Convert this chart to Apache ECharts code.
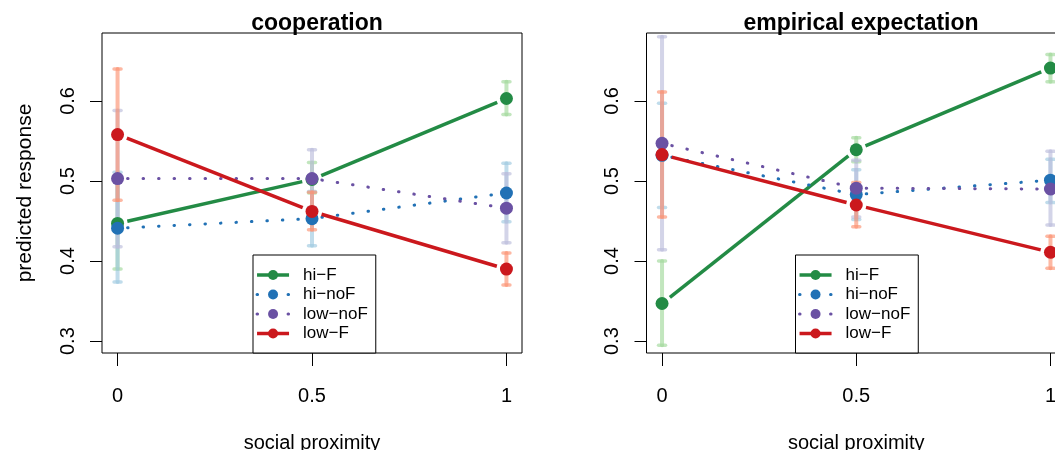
<!DOCTYPE html>
<html><head><meta charset="utf-8">
<script src="https://cdn.jsdelivr.net/npm/echarts@6/dist/echarts.min.js"></script>
<style>html,body{margin:0;padding:0;background:#fff}#c{width:1055px;height:450px}</style>
</head><body><div id="c"></div>
<script>
// ---------- data ----------
const groups = ['hi\u2212F', 'hi\u2212noF', 'low\u2212noF', 'low\u2212F'];
const proximity = [0, 0.5, 1];
const xTicks = [0, 0.5, 1];
const yTicks = [0.3, 0.4, 0.5, 0.6];
const panelTitles = ['cooperation', 'empirical expectation'];
const xAxisTitle = 'social proximity';
const yAxisTitle = 'predicted response';

// cooperation panel: mean, lower, upper per group
const coopHiF      = [0.447, 0.502, 0.603];
const coopHiFLo    = [0.390, 0.485, 0.583];
const coopHiFHi    = [0.502, 0.523, 0.624];
const coopHiNoF    = [0.441, 0.453, 0.485];
const coopHiNoFLo  = [0.374, 0.419, 0.449];
const coopHiNoFHi  = [0.511, 0.487, 0.522];
const coopLowNoF   = [0.503, 0.503, 0.466];
const coopLowNoFLo = [0.418, 0.467, 0.423];
const coopLowNoFHi = [0.588, 0.539, 0.509];
const coopLowF     = [0.558, 0.462, 0.390];
const coopLowFLo   = [0.476, 0.439, 0.370];
const coopLowFHi   = [0.640, 0.486, 0.410];

// empirical expectation panel
const empHiF      = [0.347, 0.539, 0.641];
const empHiFLo    = [0.295, 0.524, 0.624];
const empHiFHi    = [0.400, 0.554, 0.658];
const empHiNoF    = [0.532, 0.483, 0.501];
const empHiNoFLo  = [0.467, 0.452, 0.473];
const empHiNoFHi  = [0.597, 0.514, 0.527];
const empLowNoF   = [0.547, 0.491, 0.490];
const empLowNoFLo = [0.414, 0.455, 0.445];
const empLowNoFHi = [0.680, 0.526, 0.537];
const empLowF     = [0.533, 0.470, 0.411];
const empLowFLo   = [0.455, 0.443, 0.391];
const empLowFHi   = [0.611, 0.498, 0.431];

// ---------- styling ----------
const lineColors = ['#238b45', '#2171b5', '#6a51a3', '#cb181d'];
const barColors  = ['#a1d99b', '#9ecae1', '#bcbddc', '#fc9272'];
const dotted     = [false, true, true, false];
const FONT = '"Liberation Sans", Arial, Helvetica, sans-serif';

const panels = [
  { mean: [coopHiF, coopHiNoF, coopLowNoF, coopLowF],
    lo:   [coopHiFLo, coopHiNoFLo, coopLowNoFLo, coopLowFLo],
    hi:   [coopHiFHi, coopHiNoFHi, coopLowNoFHi, coopLowFHi] },
  { mean: [empHiF, empHiNoF, empLowNoF, empLowF],
    lo:   [empHiFLo, empHiNoFLo, empLowNoFLo, empLowFLo],
    hi:   [empHiFHi, empHiNoFHi, empLowNoFHi, empLowFHi] }
];

const gridLayout = [
  { left: 102, width: 420 },
  { left: 646.5, width: 419.5 }
];
const centers = [312, 856];
const legendLeft = [253, 795.5];

function errRender(params, api) {
  const x = api.value(0), lo = api.value(1), hi = api.value(2), g = api.value(3);
  const a = api.coord([x, lo]), b = api.coord([x, hi]);
  const col = barColors[g];
  const st = { stroke: col, lineWidth: 4, opacity: 0.65, lineCap: 'round' };
  const cap = { stroke: col, lineWidth: 3.5, opacity: 0.65, lineCap: 'round' };
  return { type: 'group', children: [
    { type: 'line', shape: { x1: a[0], y1: a[1], x2: b[0], y2: b[1] }, style: st },
    { type: 'line', shape: { x1: a[0] - 3.5, y1: a[1], x2: a[0] + 3.5, y2: a[1] }, style: cap },
    { type: 'line', shape: { x1: b[0] - 3.5, y1: b[1], x2: b[0] + 3.5, y2: b[1] }, style: cap }
  ]};
}

function segRender(params, api) {
  const g = api.value(4);
  const p1 = api.coord([api.value(0), api.value(1)]);
  const p2 = api.coord([api.value(2), api.value(3)]);
  const dx = p2[0] - p1[0], dy = p2[1] - p1[1];
  const L = Math.sqrt(dx * dx + dy * dy);
  const ux = dx / L, uy = dy / L, gap = 10;
  const style = dotted[g]
    ? { stroke: lineColors[g], lineWidth: 3, lineDash: [0.5, 15], lineCap: 'round' }
    : { stroke: lineColors[g], lineWidth: 3.5, lineCap: 'butt' };
  return { type: 'line',
    shape: { x1: p1[0] + ux * gap, y1: p1[1] + uy * gap, x2: p2[0] - ux * gap, y2: p2[1] - uy * gap },
    style: style };
}

const grids = [], xAxes = [], yAxes = [], series = [], titles = [], legends = [];
panels.forEach((P, p) => {
  grids.push({ left: gridLayout[p].left, width: gridLayout[p].width, top: 33, bottom: 97,
    outerBoundsMode: 'none', containLabel: false,
    show: true, borderColor: '#000', borderWidth: 1, backgroundColor: 'rgba(0,0,0,0)' });
  xAxes.push({ gridIndex: p, type: 'value', min: -0.04, max: 1.04,
    splitLine: { show: false }, axisLine: { show: false, onZero: false },
    axisTick: { show: true, inside: false, length: 13, customValues: xTicks, lineStyle: { color: '#000', width: 1 } },
    axisLabel: { customValues: xTicks, margin: 33, fontSize: 20, color: '#000', fontFamily: FONT },
    name: xAxisTitle, nameLocation: 'middle', nameGap: 80,
    nameTextStyle: { fontSize: 20, color: '#000', fontFamily: FONT } });
  const ya = { gridIndex: p, type: 'value', min: 0.2852, max: 0.6848,
    splitLine: { show: false }, axisLine: { show: false, onZero: false },
    axisTick: { show: true, inside: false, length: 12, customValues: yTicks, lineStyle: { color: '#000', width: 1 } },
    axisLabel: { customValues: yTicks, rotate: 90, margin: 24, fontSize: 20, color: '#000', fontFamily: FONT } };
  if (p === 0) {
    ya.name = yAxisTitle; ya.nameLocation = 'middle'; ya.nameGap = 66;
    ya.nameTextStyle = { fontSize: 21, color: '#000', fontFamily: FONT };
  }
  yAxes.push(ya);

  const errData = [], segData = [];
  P.mean.forEach((m, g) => {
    proximity.forEach((x, i) => errData.push([x, P.lo[g][i], P.hi[g][i], g]));
    for (let i = 0; i < proximity.length - 1; i++)
      segData.push([proximity[i], m[i], proximity[i + 1], m[i + 1], g]);
  });
  series.push({ type: 'custom', xAxisIndex: p, yAxisIndex: p, z: 1, silent: true,
    renderItem: errRender, data: errData, encode: { x: 0, y: [1, 2] } });
  series.push({ type: 'custom', xAxisIndex: p, yAxisIndex: p, z: 2, silent: true,
    renderItem: segRender, data: segData, encode: { x: [0, 2], y: [1, 3] } });
  P.mean.forEach((m, g) => {
    series.push({ type: 'line', name: groups[g], xAxisIndex: p, yAxisIndex: p, z: 3,
      data: proximity.map((x, i) => [x, m[i]]),
      symbol: 'circle', symbolSize: 13, showSymbol: true,
      lineStyle: { opacity: 0 }, itemStyle: { color: lineColors[g], opacity: 1 },
      emphasis: { disabled: true }, silent: true });
  });

  titles.push({ text: panelTitles[p], left: centers[p], top: 7, textAlign: 'center',
    textStyle: { fontSize: 23, fontWeight: 'bold', color: '#000', fontFamily: FONT } });

  legends.push({ orient: 'vertical', left: legendLeft[p], top: 255,
    padding: [11.5, 8, 11, 2.3], itemWidth: 32, itemHeight: 12.5, itemGap: 2.5,
    borderColor: '#000', borderWidth: 1, backgroundColor: '#fff', borderRadius: 0,
    selectedMode: false,
    textStyle: { fontSize: 17, color: '#000', fontFamily: FONT, padding: [0, 0, 0, 9] },
    data: groups.map((name, g) => ({ name: name,
      lineStyle: dotted[g]
        ? { opacity: 1, width: 3, color: lineColors[g], type: [0.5, 15], cap: 'round' }
        : { opacity: 1, width: 3.5, color: lineColors[g], type: 'solid' } })) });
});

const chart = echarts.init(document.getElementById('c'), null, { renderer: 'canvas' });
chart.setOption({
  animation: false,
  backgroundColor: '#fff',
  title: titles, legend: legends, grid: grids, xAxis: xAxes, yAxis: yAxes, series: series
});
</script></body></html>
